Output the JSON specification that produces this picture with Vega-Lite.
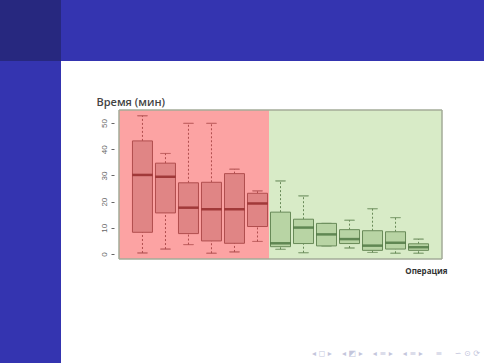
{
  "$schema": "https://vega.github.io/schema/vega-lite/v6.json",
  "autosize": {"type": "none"},
  "width": 333,
  "height": 149,
  "padding": {"left": 114, "top": 110, "right": 37, "bottom": 104},
  "background": "white",
  "config": {
    "view": {"stroke": null},
    "axisY": {"grid": false, "domain": false, "labelOverlap": false, "labelBound": false,
      "tickSize": 3, "tickColor": "#666666", "labelColor": "#666666", "labelFontSize": 8, "labelFont": "Liberation Sans",
      "labelAngle": -90, "labelAlign": "center", "labelBaseline": "bottom", "labelPadding": 3,
      "titleAngle": 0, "titleAlign": "left", "titleBaseline": "alphabetic", "titleX": -18, "titleY": -5,
      "titleFont": "Open Sans", "titleFontSize": 11, "titleFontWeight": 600, "titleColor": "#444444"}
  },
  "datasets": {
    "frame": [
      {"part": "header", "x": 61, "x2": 484, "y": 0, "y2": 61},
      {"part": "sidebar", "x": 0, "x2": 61, "y": 61, "y2": 363},
      {"part": "corner", "x": 0, "x2": 61, "y": 0, "y2": 61}
    ],
    "nav": [
      {"x": 480, "y": 354, "label": "◂\u00a0◻\u00a0▸\u00a0\u00a0\u00a0\u00a0◂\u00a0◩\u00a0▸\u00a0\u00a0\u00a0\u00a0◂\u00a0≡\u00a0▸\u00a0\u00a0\u00a0\u00a0◂\u00a0≡\u00a0▸\u00a0\u00a0\u00a0\u00a0\u00a0≡\u00a0\u00a0\u00a0\u00a0\u00a0∽\u00a0⊙\u00a0⟳"}
    ],
    "bg": [
      {"grp": "A", "from": -0.02, "to": 6.5},
      {"grp": "B", "from": 6.5, "to": 14.02}
    ],
    "boxes": [
      {"op": 1, "grp": "A", "lo": 0.4, "q1": 8.3, "med": 30.2, "q3": 43.2, "hi": 52.8},
      {"op": 2, "grp": "A", "lo": 1.9, "q1": 15.7, "med": 29.5, "q3": 34.7, "hi": 38.4},
      {"op": 3, "grp": "A", "lo": 3.6, "q1": 7.8, "med": 17.7, "q3": 27.2, "hi": 49.9},
      {"op": 4, "grp": "A", "lo": 0.3, "q1": 5.0, "med": 17.1, "q3": 27.4, "hi": 49.9},
      {"op": 5, "grp": "A", "lo": 0.8, "q1": 4.1, "med": 17.1, "q3": 30.7, "hi": 32.4},
      {"op": 6, "grp": "A", "lo": 4.8, "q1": 10.5, "med": 19.3, "q3": 23.2, "hi": 24.1},
      {"op": 7, "grp": "B", "lo": 1.8, "q1": 2.8, "med": 4.1, "q3": 16.0, "hi": 27.9},
      {"op": 8, "grp": "B", "lo": 0.5, "q1": 4.0, "med": 10.1, "q3": 13.3, "hi": 22.2},
      {"op": 9, "grp": "B", "lo": 3.1, "q1": 3.1, "med": 7.5, "q3": 11.7, "hi": 11.7},
      {"op": 10, "grp": "B", "lo": 2.3, "q1": 4.0, "med": 5.7, "q3": 9.3, "hi": 12.9},
      {"op": 11, "grp": "B", "lo": 0.6, "q1": 1.4, "med": 3.2, "q3": 8.9, "hi": 17.3},
      {"op": 12, "grp": "B", "lo": 0.3, "q1": 1.9, "med": 4.3, "q3": 8.5, "hi": 13.9},
      {"op": 13, "grp": "B", "lo": 0.3, "q1": 1.4, "med": 2.6, "q3": 3.9, "hi": 5.7}
    ]
  },
  "layer": [
    {
      "layer": [
        {
          "data": {"name": "frame"},
          "mark": {"type": "rect"},
          "encoding": {
            "x": {"field": "x", "type": "quantitative", "scale": {"domain": [114, 447], "zero": false, "nice": false}, "axis": null},
            "x2": {"field": "x2"},
            "y": {"field": "y", "type": "quantitative", "scale": {"domain": [110, 259], "zero": false, "nice": false, "reverse": true}, "axis": null},
            "y2": {"field": "y2"},
            "fill": {"field": "part", "type": "nominal", "scale": {"domain": ["header", "sidebar", "corner"], "range": ["#3434b0", "#3434b0", "#27287f"]}, "legend": null}
          }
        },
        {
          "data": {"name": "nav"},
          "mark": {"type": "text", "align": "right", "baseline": "middle", "fontSize": 8, "color": "#c4c6dc", "font": "DejaVu Sans"},
          "encoding": {
            "x": {"field": "x", "type": "quantitative", "axis": null},
            "y": {"field": "y", "type": "quantitative", "axis": null},
            "text": {"field": "label"}
          }
        }
      ]
    },
    {
      "layer": [
        {
          "data": {"name": "bg"},
          "mark": {"type": "rect"},
          "encoding": {
            "x": {"field": "from", "type": "quantitative", "scale": {"domain": [-0.02, 14.02], "zero": false, "nice": false},
              "axis": {"orient": "bottom", "title": "Операция", "labels": false, "ticks": false, "domain": false, "grid": false,
                "titleFont": "Open Sans", "titleFontSize": 8, "titleFontWeight": 700, "titleColor": "#333333",
                "titleAnchor": "end", "titleAlign": "right", "titleX": 333, "titleY": 14, "titleBaseline": "alphabetic"}},
            "x2": {"field": "to"},
            "fill": {"field": "grp", "type": "nominal", "scale": {"domain": ["A", "B"], "range": ["#fca3a3", "#d8ebc7"]}, "legend": null}
          }
        },
        {
          "data": {"name": "boxes"},
          "mark": {"type": "rule", "strokeDash": [2, 2], "strokeWidth": 1},
          "encoding": {
            "x": {"field": "op", "type": "quantitative"},
            "y": {"field": "q3", "type": "quantitative", "scale": {"domain": [-1.9, 55.0], "zero": false, "nice": false},
              "axis": {"orient": "left", "title": "Время (мин)", "values": [0, 10, 20, 30, 40, 50], "tickCount": 6}},
            "y2": {"field": "hi"},
            "stroke": {"field": "grp", "type": "nominal", "scale": {"domain": ["A", "B"], "range": ["#b04e4e", "#688a58"]}, "legend": null}
          }
        },
        {
          "data": {"name": "boxes"},
          "mark": {"type": "rule", "strokeDash": [2, 2], "strokeWidth": 1},
          "encoding": {
            "x": {"field": "op", "type": "quantitative"},
            "y": {"field": "lo", "type": "quantitative", "axis": {"orient": "left", "title": "Время (мин)", "values": [0, 10, 20, 30, 40, 50], "tickCount": 6}},
            "y2": {"field": "q1"},
            "stroke": {"field": "grp", "type": "nominal", "legend": null}
          }
        },
        {
          "data": {"name": "boxes"},
          "mark": {"type": "tick", "orient": "horizontal", "size": 10, "thickness": 0.1, "strokeWidth": 1},
          "encoding": {
            "x": {"field": "op", "type": "quantitative"},
            "y": {"field": "hi", "type": "quantitative", "axis": {"orient": "left", "title": "Время (мин)", "values": [0, 10, 20, 30, 40, 50], "tickCount": 6}},
            "stroke": {"field": "grp", "type": "nominal", "legend": null}
          }
        },
        {
          "data": {"name": "boxes"},
          "mark": {"type": "tick", "orient": "horizontal", "size": 10, "thickness": 0.1, "strokeWidth": 1},
          "encoding": {
            "x": {"field": "op", "type": "quantitative"},
            "y": {"field": "lo", "type": "quantitative", "axis": {"orient": "left", "title": "Время (мин)", "values": [0, 10, 20, 30, 40, 50], "tickCount": 6}},
            "stroke": {"field": "grp", "type": "nominal", "legend": null}
          }
        },
        {
          "data": {"name": "boxes"},
          "mark": {"type": "bar", "size": 20, "strokeWidth": 1},
          "encoding": {
            "x": {"field": "op", "type": "quantitative"},
            "y": {"field": "q1", "type": "quantitative", "axis": {"orient": "left", "title": "Время (мин)", "values": [0, 10, 20, 30, 40, 50], "tickCount": 6}},
            "y2": {"field": "q3"},
            "fill": {"field": "grp", "type": "nominal", "scale": {"domain": ["A", "B"], "range": ["#e08585", "#b8d4a4"]}, "legend": null},
            "stroke": {"field": "grp", "type": "nominal", "legend": null}
          }
        },
        {
          "data": {"name": "boxes"},
          "mark": {"type": "tick", "orient": "horizontal", "size": 20, "thickness": 2.5},
          "encoding": {
            "x": {"field": "op", "type": "quantitative"},
            "y": {"field": "med", "type": "quantitative", "axis": {"orient": "left", "title": "Время (мин)", "values": [0, 10, 20, 30, 40, 50], "tickCount": 6}},
            "color": {"field": "grp", "type": "nominal", "scale": {"domain": ["A", "B"], "range": ["#861818", "#3b6630"]}, "legend": null}
          }
        },
        {
          "data": {"name": "bg"},
          "mark": {"type": "rect", "fill": null, "stroke": "#a3ab98", "strokeWidth": 1},
          "encoding": {
            "x": {"datum": -0.02, "type": "quantitative"},
            "x2": {"datum": 14.02}
          }
        }
      ],
      "resolve": {"scale": {"fill": "independent", "stroke": "shared"}}
    }
  ],
  "resolve": {"scale": {"x": "independent", "y": "independent", "fill": "independent", "stroke": "independent", "color": "independent"}, "axis": {"x": "independent", "y": "independent"}}
}
